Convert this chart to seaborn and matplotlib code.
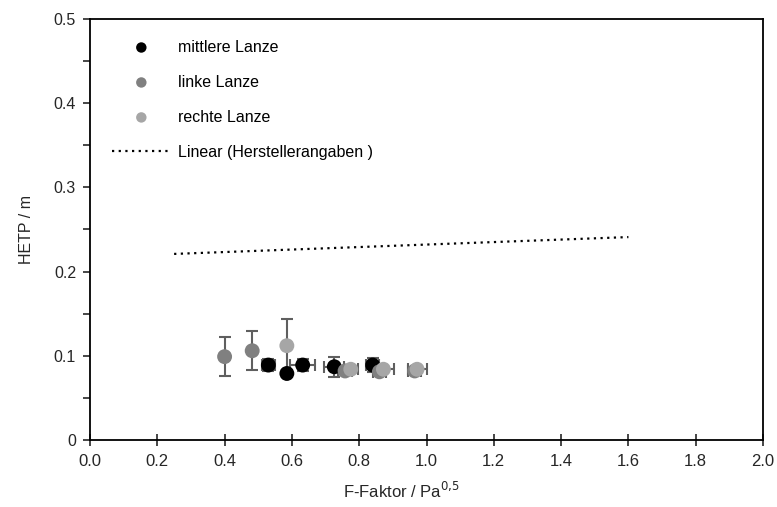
import matplotlib
matplotlib.use("Agg")
import matplotlib.pyplot as plt
import seaborn as sns
import pandas as pd
from matplotlib.ticker import MultipleLocator, FixedLocator

# Measured HETP for the three sampling lances
mid_x = [0.530, 0.585, 0.632, 0.726, 0.840]
mid_y = [0.089, 0.079, 0.089, 0.087, 0.089]
mid_yerr = [0.007, 0.0, 0.007, 0.012, 0.008]
mid_xerr = [0.020, 0.0, 0.037, 0.030, 0.020]

left_x = [0.400, 0.482, 0.758, 0.860, 0.965]
left_y = [0.099, 0.106, 0.082, 0.081, 0.082]
left_yerr = [0.023, 0.023, 0.004, 0.004, 0.004]
left_xerr = [0.0, 0.0, 0.020, 0.020, 0.020]

right_x = [0.585, 0.775, 0.872, 0.972]
right_y = [0.112, 0.084, 0.084, 0.084]
right_yerr = [0.032, 0.003, 0.003, 0.003]
right_xerr = [0.0, 0.020, 0.030, 0.028]

# Manufacturer's data, linear fit
trend_x = [0.25, 1.60]
trend_y = [0.221, 0.241]

x_ticks = [0.0, 0.2, 0.4, 0.6, 0.8, 1.0, 1.2, 1.4, 1.6, 1.8, 2.0]
y_ticks = [0.0, 0.1, 0.2, 0.3, 0.4, 0.5]
y_labels = ["0", "0.1", "0.2", "0.3", "0.4", "0.5"]

sns.set_style("white")
plt.rcParams["font.family"] = ["Liberation Sans", "DejaVu Sans"]

fig = plt.figure(figsize=(7.77, 5.07), dpi=100)
ax = fig.add_axes([90 / 777, 67 / 507, 673 / 777, 421 / 507])

ebar_color = "#5f5f5f"
for xs, ys, xe, ye in [(left_x, left_y, left_xerr, left_yerr),
                       (right_x, right_y, right_xerr, right_yerr),
                       (mid_x, mid_y, mid_xerr, mid_yerr)]:
    ax.errorbar(xs, ys, xerr=xe, yerr=ye, fmt="none", ecolor=ebar_color,
                elinewidth=1.5, capsize=4, capthick=1.5, zorder=2)

series = [
    ("mittlere Lanze", mid_x, mid_y, "#000000"),
    ("linke Lanze", left_x, left_y, "#808080"),
    ("rechte Lanze", right_x, right_y, "#a6a6a6"),
]
for name, xs, ys, col in series:
    df = pd.DataFrame({"x": xs, "y": ys})
    sns.scatterplot(data=df, x="x", y="y", ax=ax, color=col, s=115,
                    edgecolor="none", label=name, zorder=3)

trend = pd.DataFrame({"x": trend_x, "y": trend_y})
sns.lineplot(data=trend, x="x", y="y", ax=ax, color="black",
             dashes=False, linewidth=1.6, label="Linear (Herstellerangaben )")
ax.lines[-1].set_dashes((1.0, 2.0))

ax.set_xlim(0, 2.0)
ax.set_ylim(0, 0.5)
ax.xaxis.set_major_locator(FixedLocator(x_ticks))
ax.set_xticklabels([f"{v:.1f}" for v in x_ticks])
ax.yaxis.set_major_locator(FixedLocator(y_ticks))
ax.set_yticklabels(y_labels)
ax.yaxis.set_minor_locator(MultipleLocator(0.05))

for sp in ax.spines.values():
    sp.set_color("black")
    sp.set_linewidth(1.3)

ax.tick_params(axis="x", which="major", direction="inout", length=8,
               width=1.2, labelsize=12, pad=6, bottom=True)
ax.tick_params(axis="y", which="major", direction="out", length=5,
               width=1.2, labelsize=11.5, pad=5, left=True)
ax.tick_params(axis="y", which="minor", direction="out", length=5,
               width=1.2, left=True)

ax.set_xlabel("F-Faktor / Pa$^{0{,}5}$", fontsize=12)
ax.xaxis.set_label_coords(0.462, -0.098)
ax.set_ylabel("HETP / m", fontsize=11.5, labelpad=14)

leg = ax.legend(loc="upper left", frameon=False, fontsize=11.5,
                bbox_to_anchor=(0.011, 0.985), labelspacing=1.25,
                handlelength=3.7, handletextpad=0.45, markerscale=0.7)
for t in leg.get_texts():
    t.set_color("black")

fig.savefig("out.png", dpi=100, facecolor="white")
